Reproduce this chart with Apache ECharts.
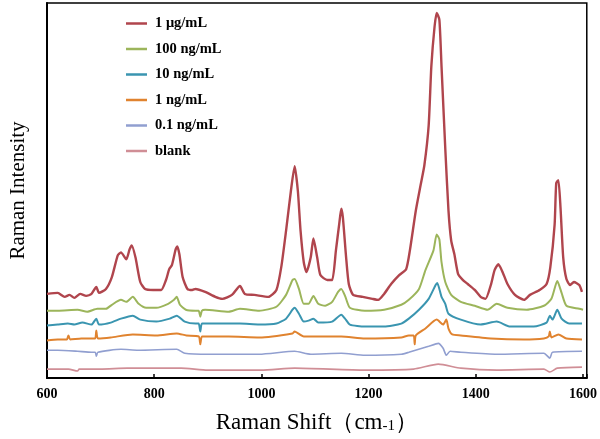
<!DOCTYPE html>
<html>
<head>
<meta charset="utf-8">
<script src="https://cdn.jsdelivr.net/npm/echarts@6/dist/echarts.min.js"></script>
<style>
  html, body { margin: 0; padding: 0; background: #fff; }
  #app { width: 600px; height: 439px; }
</style>
</head>
<body>
<div id="app"></div>
<script>
// intensities are in arbitrary units, each spectrum already offset like the figure
const seriesNames = ["1 μg/mL", "100 ng/mL", "10 ng/mL", "1 ng/mL", "0.1 ng/mL", "blank"];
const seriesColors = ["#b0454d", "#9cb55b", "#3a95b0", "#e0832f", "#919fd0", "#d08e96"];
const xTicks = [600, 800, 1000, 1200, 1400, 1600];

const redShift = [600,620,633,642,651,662,673,683,692,697,710,721,732,738,748,754,758,765,774,783,798,813,822,828,833,840,843,847,853,862,871,877,895,914,927,945,960,969,987,1013,1028,1037,1046,1055,1062,1068,1073,1079,1084,1092,1097,1104,1110,1123,1132,1139,1145,1149,1152,1158,1163,1171,1189,1207,1218,1229,1242,1257,1270,1277,1288,1297,1304,1312,1317,1323,1327,1332,1336,1343,1349,1354,1360,1367,1376,1385,1398,1409,1418,1428,1435,1442,1450,1459,1473,1490,1501,1519,1532,1539,1547,1550,1554,1558,1563,1569,1576,1583,1593,1598];
const redInt = [85,86,82,84,81,85,83,85,92,86,90,102,124,127,120,130,134,122,97,90,89,89,99,110,114,130,133,125,102,90,89,90,87,82,80,84,93,85,84,82,89,112,149,189,214,189,149,117,107,122,141,122,104,99,99,129,155,171,162,122,95,84,82,80,79,85,95,104,110,129,169,195,215,255,315,355,369,362,315,232,169,139,125,105,99,95,89,82,80,94,109,115,107,95,84,79,84,89,95,112,155,197,200,172,122,100,94,97,94,87];

const greenShift = [600,620,657,675,694,710,721,738,748,760,771,785,804,826,837,842,848,859,877,883,886,889,895,939,960,996,1028,1046,1058,1062,1070,1079,1088,1097,1106,1119,1132,1143,1149,1156,1165,1193,1229,1261,1275,1294,1306,1321,1327,1332,1336,1343,1354,1372,1398,1422,1439,1459,1495,1527,1541,1552,1560,1569,1593,1600];
const greenInt = [68,68,69,67,70,70,74,79,77,82,75,71,71,75,79,82,74,69,68,68,62,68,69,67,70,68,72,84,99,100,90,75,75,83,75,73,77,87,90,83,71,68,69,74,79,90,109,129,145,140,117,97,84,77,73,69,75,71,69,73,80,98,86,73,70,69];

const tealShift = [600,620,639,651,666,683,692,697,719,738,760,774,804,829,842,857,877,883,886,889,902,960,996,1028,1046,1058,1062,1070,1079,1088,1097,1106,1132,1149,1156,1165,1193,1229,1261,1275,1294,1312,1325,1328,1336,1343,1349,1372,1409,1439,1464,1508,1532,1538,1543,1552,1560,1574,1598];
const tealInt = [53,54,55,54,56,54,60,54,56,60,63,59,57,60,63,57,55,55,47,55,55,55,54,55,60,69,71,65,57,58,60,56,57,64,60,54,52,52,55,60,69,80,94,96,82,75,65,59,54,57,52,52,56,63,59,69,60,55,55];

const orangeShift = [600,620,637,640,643,664,683,690,692,695,719,760,804,842,860,883,886,889,902,939,996,1058,1062,1079,1149,1193,1261,1275,1284,1286,1288,1306,1327,1339,1345,1349,1356,1372,1428,1490,1527,1536,1538,1541,1554,1569,1598];
const orangeInt = [38,39,39,43,39,40,40,40,48,40,41,44,43,45,43,42,34,42,42,42,41,45,47,42,42,40,41,43,43,34,43,50,59,54,59,50,44,43,40,39,40,42,47,41,44,40,39];

const lavShift = [600,620,657,683,690,692,695,738,770,842,857,902,996,1062,1092,1149,1193,1261,1275,1312,1330,1339,1345,1352,1372,1439,1527,1538,1543,1598];
const lavInt = [28,28,27,26,26,22,26,29,28,29,25,24,24,27,24,25,23,24,26,32,35,30,23,27,26,24,25,20,26,27];

const pinkShift = [600,640,657,660,700,750,810,850,900,1000,1062,1193,1284,1330,1372,1439,1527,1538,1552,1598];
const pinkInt = [9,9,7,9,9,10,10,10,8,8,10,8,9,14,10,8,9,6,10,11];

const shifts = [redShift, greenShift, tealShift, orangeShift, lavShift, pinkShift];
const ints = [redInt, greenInt, tealInt, orangeInt, lavInt, pinkInt];
const widths = [2.4, 2, 2, 2, 1.6, 1.6];

const serif = "'Times New Roman', 'Liberation Serif', serif";

const chart = echarts.init(document.getElementById("app"), null, { renderer: "canvas" });

chart.setOption({
  animation: false,
  backgroundColor: "#fff",
  grid: {
    left: 42, right: 9, top: 3, bottom: 57,
    show: true, borderColor: "#000", borderWidth: 1.5,
  },
  legend: {
    left: 121, top: 11, orient: "vertical",
    icon: "rect", itemWidth: 21, itemHeight: 2.5, itemGap: 10.5,
    textStyle: { fontFamily: serif, fontWeight: "bold", fontSize: 14.5, color: "#000", padding: [0, 0, 0, 3] },
    data: seriesNames,
  },
  xAxis: {
    type: "value", min: 600, max: 1607, interval: 200,
    name: "Raman Shift（cm{sub|-1}）", nameLocation: "middle", nameGap: 33,
    nameTextStyle: {
      fontFamily: serif, fontSize: 23, color: "#000",
      rich: { sub: { fontFamily: serif, fontSize: 15, color: "#000", verticalAlign: "bottom", padding: [8, 0, 0, 0] } },
    },
    axisLine: { lineStyle: { color: "#000", width: 2 } },
    axisTick: { inside: true, length: 4, lineStyle: { color: "#000", width: 1.5 } },
    axisLabel: {
      margin: 9, fontFamily: serif, fontWeight: "bold", fontSize: 14, color: "#000",
      formatter: (v) => (xTicks.includes(v) ? String(v) : ""),
    },
    splitLine: { show: false },
  },
  yAxis: {
    type: "value", min: 0, max: 379,
    name: "Raman Intensity", nameLocation: "middle", nameGap: 18,
    nameTextStyle: { fontFamily: serif, fontSize: 21, color: "#000" },
    axisLine: { show: true, lineStyle: { color: "#000", width: 2 } },
    axisTick: { show: false },
    axisLabel: { show: false },
    splitLine: { show: false },
  },
  series: seriesNames.map((name, i) => ({
    name,
    type: "line",
    showSymbol: false,
    smooth: 0.2,
    color: seriesColors[i],
    lineStyle: { width: widths[i], color: seriesColors[i] },
    data: shifts[i].map((x, j) => [x, ints[i][j]]),
  })),
});
</script>
</body>
</html>
